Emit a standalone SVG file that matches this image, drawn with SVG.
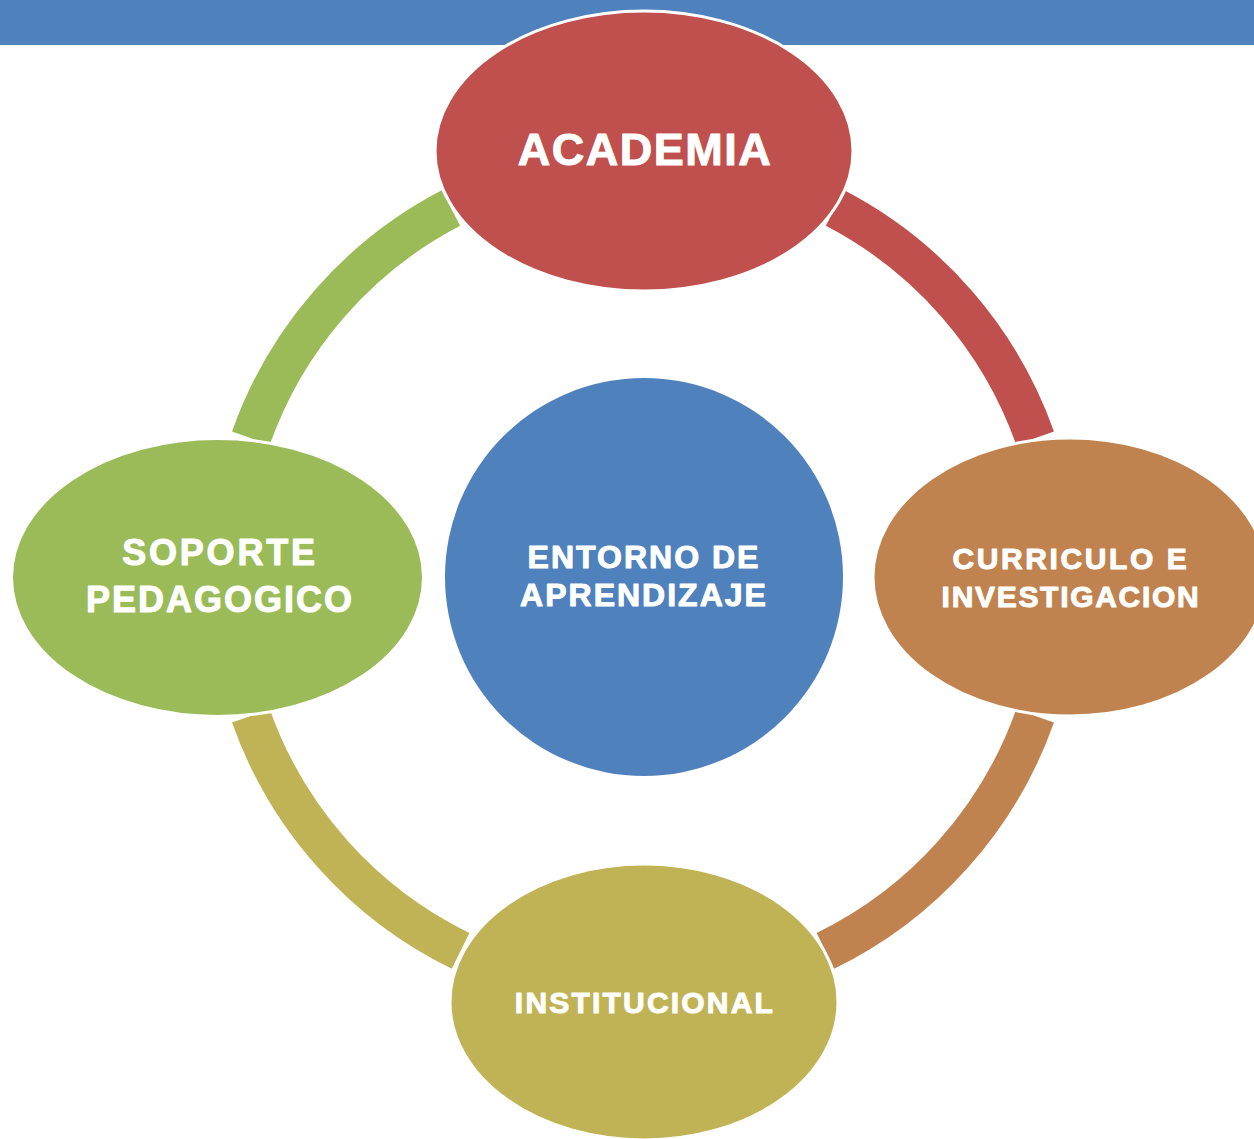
<svg xmlns="http://www.w3.org/2000/svg" width="1254" height="1139" viewBox="0 0 1254 1139">
<style>
.arc{fill:none;stroke-width:40;stroke-linecap:butt}
.node{stroke:#FFFFFF;stroke-width:3}
.lbl{font-family:"Liberation Sans",Arial,sans-serif;font-weight:bold;fill:#FFFFFF;stroke:#FFFFFF;stroke-width:1;stroke-linejoin:round;text-anchor:middle}
</style>
<rect x="0" y="0" width="1254" height="45" fill="#4F81BD"/>
<g id="connectors">
<path class="arc" stroke="#C0504D" d="M835.1,208.0 A416,416 0 0 1 1035.1,438.1"/>
<path class="arc" stroke="#C0834F" d="M1035.1,715.9 A416,416 0 0 1 825.4,950.9"/>
<path class="arc" stroke="#BFB356" d="M460.6,950.9 A416,416 0 0 1 250.9,715.9"/>
<path class="arc" stroke="#9BBB59" d="M250.9,438.1 A416,416 0 0 1 450.9,208.0"/>
</g>
<g id="center">
<circle cx="644" cy="577" r="199" fill="#4F81BD"/>
<text class="lbl" font-size="32" letter-spacing="2"><tspan x="644" y="568">ENTORNO DE</tspan><tspan x="644" y="606">APRENDIZAJE</tspan></text>
</g>
<g id="academia">
<ellipse class="node" cx="644" cy="151" rx="209" ry="140" fill="#C0504D"/>
<text class="lbl" x="645" y="165" font-size="45" letter-spacing="1.5">ACADEMIA</text>
</g>
<g id="curriculo">
<ellipse class="node" cx="1070" cy="577" rx="197" ry="139" fill="#C0834F"/>
<text class="lbl" font-size="30"><tspan x="1071" y="569" letter-spacing="2.6">CURRICULO E</tspan><tspan x="1071" y="607" letter-spacing="1.7">INVESTIGACION</tspan></text>
</g>
<g id="institucional">
<ellipse class="node" cx="644" cy="1002" rx="194" ry="138" fill="#BFB356"/>
<text class="lbl" x="645" y="1013" font-size="30" letter-spacing="2.2">INSTITUCIONAL</text>
</g>
<g id="soporte">
<ellipse class="node" cx="217.5" cy="577.5" rx="206" ry="139" fill="#9BBB59"/>
<text class="lbl" font-size="36"><tspan x="220" y="565" letter-spacing="2.8">SOPORTE</tspan><tspan x="220" y="612" letter-spacing="2">PEDAGOGICO</tspan></text>
</g>
</svg>
